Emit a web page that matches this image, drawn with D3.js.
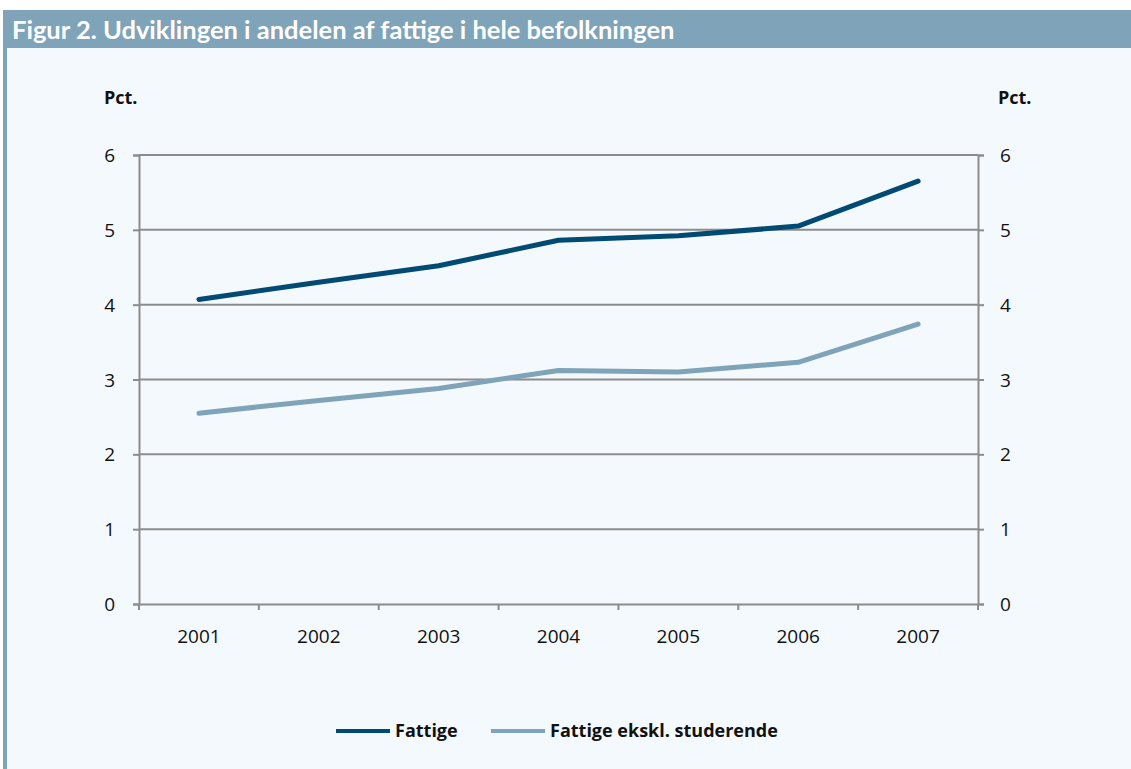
<!DOCTYPE html>
<html><head><meta charset="utf-8">
<script src="https://cdn.jsdelivr.net/npm/d3@7"></script>
<style>body{margin:0;background:#fff}svg{display:block}</style>
</head><body>
<svg id="c" width="1131" height="769"></svg>
<script>
const years = ["2001","2002","2003","2004","2005","2006","2007"];
const fattige = [4.07, 4.30, 4.52, 4.86, 4.92, 5.05, 5.65];
const fattigeEkskl = [2.55, 2.72, 2.88, 3.12, 3.10, 3.23, 3.74];
const yTicks = [0,1,2,3,4,5,6];
const seriesNames = ["Fattige", "Fattige ekskl. studerende"];
const seriesColors = ["#004a73", "#7fa3b8"];

const svg = d3.select("#c");
svg.append("rect").attr("x",3).attr("y",10).attr("width",1128).attr("height",759).attr("fill","#f4f9fd");
svg.append("rect").attr("x",3).attr("y",48).attr("width",4).attr("height",721).attr("fill","#7fa3b8");
svg.append("rect").attr("x",3).attr("y",10).attr("width",1128).attr("height",38).attr("fill","#7fa3b8");
svg.append("text").attr("x",12).attr("y",39).attr("fill","#fff")
  .style("font-family","Lato").style("font-weight","700").style("font-size","25.5px")
  .text("Figur 2. Udviklingen i andelen af fattige i hele befolkningen");

const L=139, R=978, T=155, B=604;
const x = d3.scaleBand().domain(years).range([L,R]);
const y = d3.scaleLinear().domain([0,6]).range([B,T]);
const font = "Open Sans";

svg.append("g").selectAll("line").data(yTicks.filter(d=>d>0)).join("line")
  .attr("x1",L).attr("x2",R).attr("y1",d=>y(d)).attr("y2",d=>y(d))
  .attr("stroke","#8c8c8c").attr("stroke-width",2);

const axL = svg.append("g").attr("transform",`translate(${L},0)`)
  .call(d3.axisLeft(y).tickValues(yTicks).tickSize(6).tickPadding(18).tickFormat(d3.format("d")));
const axR = svg.append("g").attr("transform",`translate(${R},0)`)
  .call(d3.axisRight(y).tickValues(yTicks).tickSize(6).tickPadding(16).tickFormat(d3.format("d")));
const axB = svg.append("g").attr("transform",`translate(0,${B})`)
  .call(d3.axisBottom(x).tickSize(0).tickPadding(26));
svg.append("g").selectAll("line").data(d3.range(years.length+1)).join("line")
  .attr("x1",i=>L+i*x.step()).attr("x2",i=>L+i*x.step()).attr("y1",B).attr("y2",B+6)
  .attr("stroke","#8c8c8c").attr("stroke-width",2);
[axL,axR,axB].forEach(a=>{
  a.select(".domain").attr("stroke","#8c8c8c").attr("stroke-width",2);
  a.selectAll(".tick line").attr("stroke","#8c8c8c").attr("stroke-width",2);
  a.selectAll("text").style("font-family",font).style("font-size","19px").attr("fill","#111");
});
axL.selectAll(".tick text").attr("dy","0.35em");
axR.selectAll(".tick text").attr("dy","0.35em");

svg.append("text").attr("x",104).attr("y",104).text("Pct.")
  .style("font-family",font).style("font-weight","700").style("font-size","18px").attr("fill","#111");
svg.append("text").attr("x",998).attr("y",104).text("Pct.")
  .style("font-family",font).style("font-weight","700").style("font-size","18px").attr("fill","#111");

const line = d3.line().x((d,i)=>x(years[i])+x.bandwidth()/2).y(d=>y(d));
[fattigeEkskl, fattige].forEach((s,k)=>{
  const idx = k===0?1:0;
  svg.append("path").datum(s).attr("d",line).attr("fill","none")
    .attr("stroke",seriesColors[idx]).attr("stroke-width",5).attr("stroke-linecap","round").attr("stroke-linejoin","round");
});

const legX = [336, 491];
seriesNames.forEach((n,i)=>{
  svg.append("line").attr("x1",legX[i]).attr("x2",legX[i]+54).attr("y1",731).attr("y2",731)
    .attr("stroke",seriesColors[i]).attr("stroke-width",4);
  svg.append("text").attr("x",legX[i]+59).attr("y",737).text(n)
    .style("font-family",font).style("font-weight","700").style("font-size","18px").attr("fill","#111");
});
</script>
</body></html>
